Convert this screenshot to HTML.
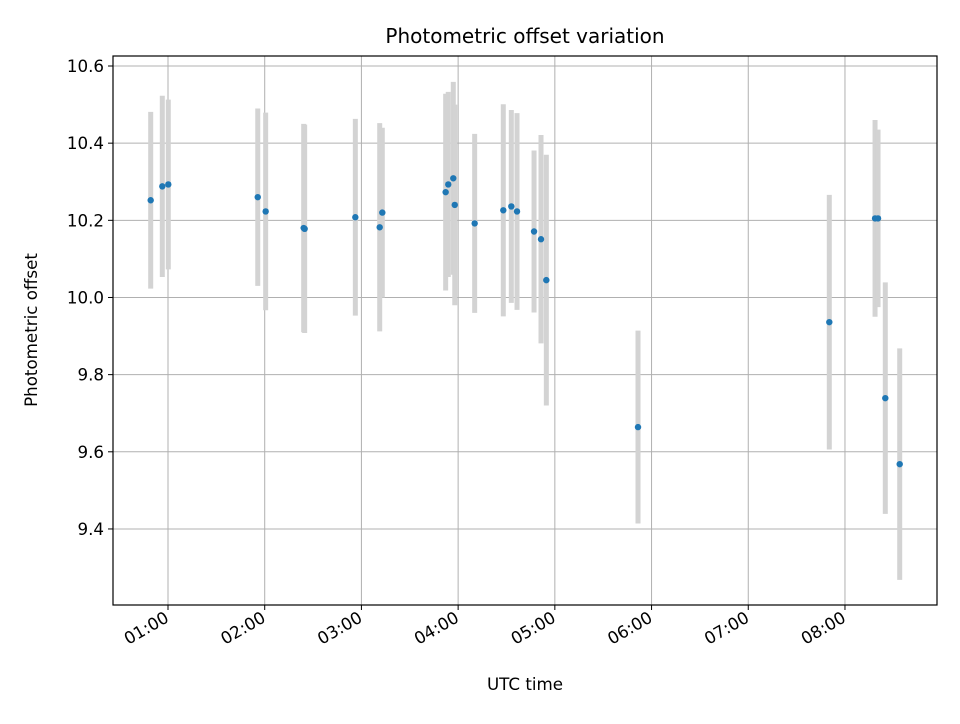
<!DOCTYPE html>
<html><head><meta charset="utf-8"><style>
body{margin:0;background:#fff;font-family:"DejaVu Sans","Liberation Sans",sans-serif}
</style></head><body>
<svg id="chart" width="960" height="720" xmlns="http://www.w3.org/2000/svg" font-family="DejaVu Sans, Liberation Sans, sans-serif">
<rect width="960" height="720" fill="#fff"/>
<g id="grid"></g>
<g id="bars"></g>
<g id="pts"></g>
<rect x="113" y="56" width="824" height="549" fill="none" stroke="#000" stroke-width="1.2"/>
<g id="axes"></g>
<text x="525" y="43" text-anchor="middle" font-size="20">Photometric offset variation</text>
<text x="525" y="690" text-anchor="middle" font-size="16.7">UTC time</text>
<text x="0" y="0" transform="translate(37,330) rotate(-90)" text-anchor="middle" font-size="16.7">Photometric offset</text>
</svg>
<script>
const times=[0.821,0.941,1.003,1.928,2.010,2.403,2.413,2.937,3.189,3.216,3.871,3.898,3.950,3.965,4.171,4.467,4.550,4.609,4.785,4.857,4.912,5.860,7.838,8.311,8.342,8.417,8.566];
const values=[10.252,10.288,10.293,10.260,10.223,10.180,10.178,10.208,10.182,10.220,10.273,10.293,10.309,10.240,10.192,10.226,10.236,10.223,10.171,10.151,10.045,9.664,9.936,10.205,10.205,9.739,9.568];
const errors=[0.229,0.235,0.22,0.23,0.256,0.27,0.27,0.255,0.27,0.22,0.255,0.24,0.25,0.26,0.232,0.275,0.25,0.255,0.21,0.27,0.325,0.25,0.33,0.255,0.23,0.3,0.30];
const yTicks=[9.4,9.6,9.8,10.0,10.2,10.4,10.6];
const xTicks=[1,2,3,4,5,6,7,8];
const xTickLabels=["01:00","02:00","03:00","04:00","05:00","06:00","07:00","08:00"];
const L=113,R=937,T=56,B=605;
const x=h=>168+(h-1)*96.71;
const y=v=>66+(10.6-v)*385.8;
const NS="http://www.w3.org/2000/svg";
function mk(tag,attrs,parent){const e=document.createElementNS(NS,tag);for(const k in attrs)e.setAttribute(k,attrs[k]);parent.appendChild(e);return e;}
const grid=document.getElementById('grid'),axes=document.getElementById('axes'),bars=document.getElementById('bars'),pts=document.getElementById('pts');
yTicks.forEach(v=>{
  const g=mk('line',{x1:L,x2:R,y1:y(v),y2:y(v),stroke:'#b0b0b0','stroke-width':1},grid);
  
  
  const t=mk('line',{x1:L-5,x2:L,y1:y(v),y2:y(v),stroke:'#000'},axes);
  
  
  const tx=mk('text',{x:L-9,y:y(v)+6,'text-anchor':'end','font-size':16.7},axes);
  tx.textContent=v.toFixed(1);
  
  
});
xTicks.forEach((h,i)=>{
  const g=mk('line',{x1:x(h),x2:x(h),y1:T,y2:B,stroke:'#b0b0b0','stroke-width':1},grid);
  
  
  const t=mk('line',{x1:x(h),x2:x(h),y1:B,y2:B+5,stroke:'#000'},axes);
  
  
  const tx=mk('text',{x:0,y:0,'text-anchor':'end','font-size':16.7,transform:`translate(${x(h)+2},${B+16}) rotate(-30)`},axes);
  tx.textContent=xTickLabels[i];
  
  
});
times.forEach((h,i)=>{
  const b=mk('line',{x1:x(h),x2:x(h),y1:y(values[i]+errors[i]),y2:y(values[i]-errors[i]),stroke:'#d3d3d3','stroke-width':5},bars);
  
  
  const c=mk('circle',{cx:x(h),cy:y(values[i]),r:3.2,fill:'#1f77b4'},pts);
  
  
});
</script>
</body></html>
